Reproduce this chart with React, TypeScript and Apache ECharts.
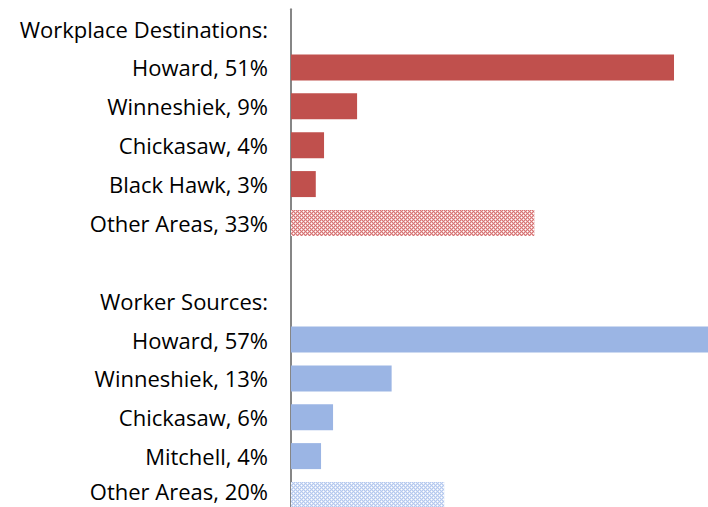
import React, { useEffect, useRef } from "react";
import * as echarts from "echarts";

const destHeader = "Workplace Destinations:";
const destLabels = ["Howard, 51%", "Winneshiek, 9%", "Chickasaw, 4%", "Black Hawk, 3%", "Other Areas, 33%"];
const destValues = [51.0, 8.8, 4.4, 3.3, 32.4];
const srcHeader = "Worker Sources:";
const srcLabels = ["Howard, 57%", "Winneshiek, 13%", "Chickasaw, 6%", "Mitchell, 4%", "Other Areas, 20%"];
const srcValues = [57.0, 13.4, 5.6, 4.0, 20.4];

function makePattern(dark: string, light: string) {
  const c = document.createElement("canvas");
  c.width = 4;
  c.height = 4;
  const ctx = c.getContext("2d")!;
  ctx.fillStyle = light;
  ctx.fillRect(0, 0, 4, 4);
  ctx.fillStyle = dark;
  for (let y = 0; y < 4; y++) {
    for (let x = 0; x < 4; x++) {
      if ((x + y) % 2 === 0) ctx.fillRect(x, y, 1, 1);
    }
  }
  ctx.fillStyle = "#ffffff";
  ctx.fillRect(1, 1, 1, 1);
  ctx.fillRect(3, 3, 1, 1);
  return { image: c, repeat: "repeat" as const };
}

export default function App() {
  const ref = useRef<HTMLDivElement>(null);
  useEffect(() => {
    if (!ref.current) return;
    const chart = echarts.init(ref.current, undefined, { renderer: "svg" });
    const red = "#c0504d";
    const blue = "#9bb5e4";
    const redPat = makePattern("#d57474", "#eeb8b8");
    const bluePat = makePattern("#b4c8ee", "#d8e3f7");

    const cats: string[] = [];
    const data: any[] = [];
    cats.push(destHeader);
    data.push(null);
    destLabels.forEach((l, i) => {
      cats.push(l);
      const isOther = i === destLabels.length - 1;
      data.push({ value: destValues[i], itemStyle: { color: isOther ? redPat : red } });
    });
    cats.push("");
    data.push(null);
    cats.push(srcHeader);
    data.push(null);
    srcLabels.forEach((l, i) => {
      cats.push(l);
      const isOther = i === srcLabels.length - 1;
      data.push({ value: srcValues[i], itemStyle: { color: isOther ? bluePat : blue } });
    });
    const lastIdx = cats.length - 1;

    chart.setOption({
      animation: false,
      grid: { left: 291, right: 0, top: 9.2, height: 505.2 },
      xAxis: {
        type: "value",
        min: 0,
        max: 417 / 7.51,
        show: false,
        splitLine: { show: false },
      },
      yAxis: {
        type: "category",
        inverse: true,
        data: cats,
        axisLine: { show: true, lineStyle: { color: "#868686", width: 2 } },
        axisTick: { show: false },
        axisLabel: {
          margin: 23,
          color: "#000000",
          fontFamily: "Open Sans",
          fontSize: 22,
          lineHeight: 20,
          interval: 0,
          formatter: (v: string, idx: number) => (idx === lastIdx ? `{last|${v}}` : v),
          rich: {
            last: {
              fontFamily: "Open Sans",
              fontSize: 22,
              lineHeight: 20,
              color: "#000000",
              padding: [0, 0, 8, 0],
            },
          },
        },
      },
      series: [
        {
          type: "bar",
          data,
          barWidth: 26,
          clip: true,
        },
      ],
    });
    return () => chart.dispose();
  }, []);
  return (
    <div style={{ position: "absolute", left: 0, top: 0, width: 708, height: 507, overflow: "hidden" }}>
      <div ref={ref} style={{ width: 708, height: 515 }} />
    </div>
  );
}
